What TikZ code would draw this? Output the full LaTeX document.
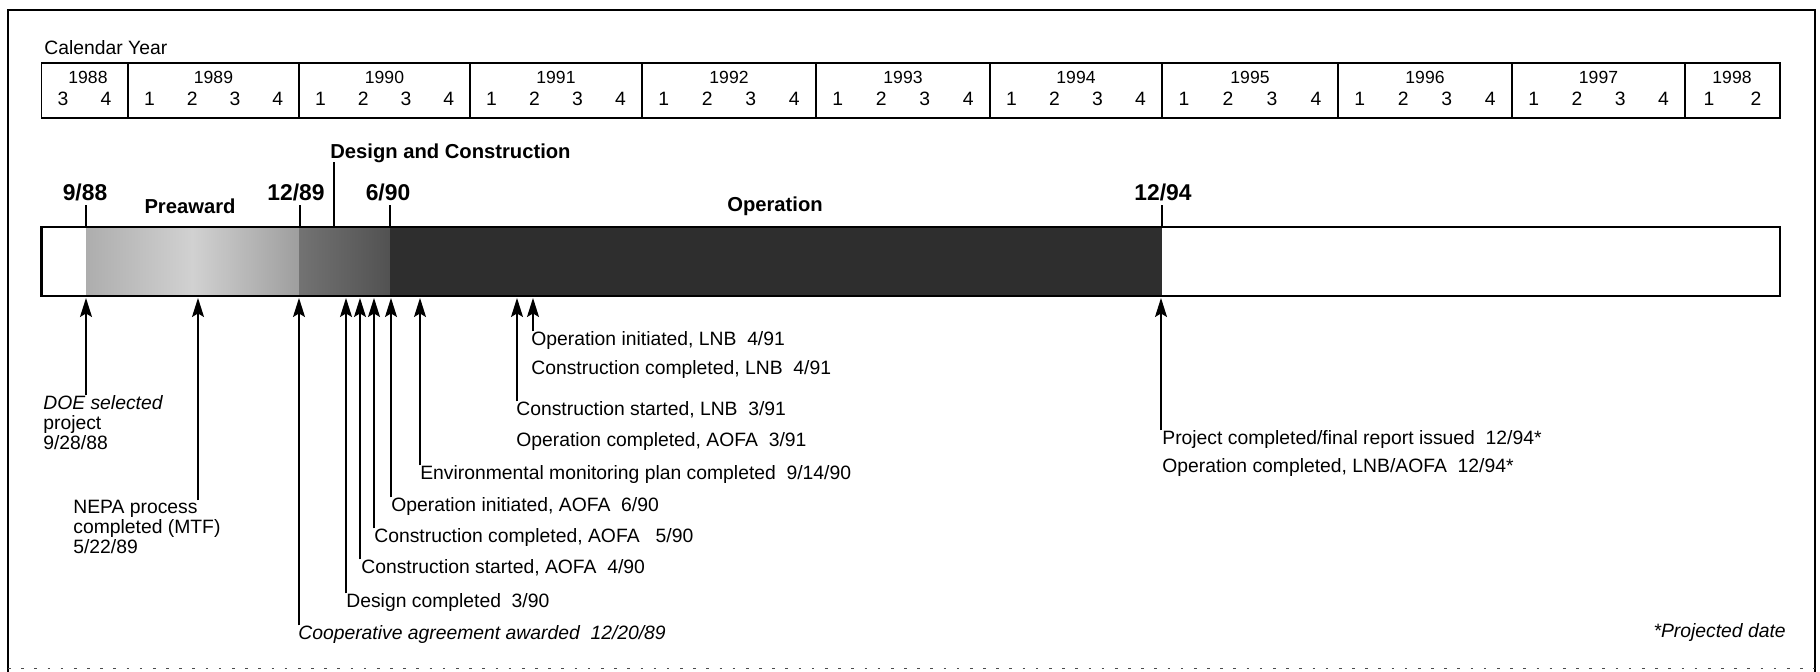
\documentclass[tikz,border=0pt]{standalone}
\usepackage{fontspec}
\setmainfont{Liberation Sans}
\usetikzlibrary{arrows.meta}

\begin{document}
\begin{tikzpicture}[x=0.02cm,y=-0.02cm,
    lbl/.style={anchor=west,inner sep=0pt,text height=8pt,text depth=2.5pt,font=\fontsize{11}{12}\selectfont},
    blk/.style={anchor=north west,inner sep=0pt,align=left,font=\fontsize{11}{11.4}\selectfont},
    yr/.style={inner sep=0pt,font=\fontsize{10}{11}\selectfont},
    qt/.style={inner sep=0pt,font=\fontsize{11}{12}\selectfont},
    phase/.style={inner sep=0pt,font=\fontsize{11.5}{12}\selectfont\bfseries},
    date/.style={inner sep=2.5pt,font=\fontsize{13}{14}\selectfont\bfseries},
    tick/.style={line width=0.6pt},
    arr/.style={line width=0.7pt,-{Stealth[length=0.38cm,width=0.24cm,inset=0.07cm]}}]
  \useasboundingbox (0,0) rectangle (1820,672);
  \draw[line width=1.3pt] (8,672) -- (8,10) -- (1815,10) -- (1815,672);
  \draw[line width=0.5pt,black!70,dash pattern=on 1.5pt off 6pt] (8,668) -- (1815,668);

  % calendar
  \node[anchor=west,inner sep=0pt,font=\fontsize{11}{12}\selectfont] (cal) at (44,48) {Calendar Year};
  \draw[line width=1pt] (41.5,63) rectangle (1780,118);
  \node[yr] (y1988) at (88,77) {1988};
  \node[qt] (q1988-3) at (63,99) {3};
  \node[qt] (q1988-4) at (106,99) {4};
  \foreach \a/\b/\yr in {128/299/1989,299/470/1990,470/642/1991,642/816/1992,816/990/1993,
      990/1162/1994,1162/1338/1995,1338/1512/1996,1512/1685/1997}{
    \draw[line width=0.6pt] (\a,63) -- (\a,118);
    \node[yr] (y\yr) at ({(\a+\b)/2},77) {\yr};
    \foreach \q in {1,...,4}
      \node[qt] (q\yr-\q) at ({\a+(\b-\a)*(\q-0.5)/4},99) {\q};
  }
  \draw[line width=0.6pt] (1685,63) -- (1685,118);
  \node[yr] (y1998) at (1732,77) {1998};
  \node[qt] (q1998-1) at (1709,99) {1};
  \node[qt] (q1998-2) at (1756,99) {2};

  % bar
  \shade[left color=black!32,right color=black!38,middle color=black!18] (86,227) rectangle (299,296);
  \shade[left color=black!55,right color=black!68] (299,227) rectangle (390,296);
  \fill[black!82] (390,227) rectangle (1162,296);
  \draw[line width=1.2pt] (41.5,227) rectangle (1780,296);

  \coordinate (t988) at (86,227);
  \coordinate (t1289) at (300,227);
  \coordinate (t690) at (390,227);
  \coordinate (t1294) at (1162,227);
  \coordinate (tdc) at (334,227);
  \coordinate (dctop) at (334,162);
  \node[date] (d988) at (85,192) {9/88};
  \node[date] (d1289) at (296,192) {12/89};
  \node[date] (d690) at (388,192) {6/90};
  \node[date] (d1294) at (1163,192) {12/94};
  \node[phase] (pre) at (190,206) {Preaward};
  \node[phase] (op) at (775,206) {Operation};
  \node[phase,anchor=base west] (dc) at (330,159) {Design and Construction};
  \draw[tick] (t988) -- (t988 |- d988.south);
  \draw[tick] (t1289) -- (t1289 |- d1289.south);
  \draw[tick] (t690) -- (t690 |- d690.south);
  \draw[tick] (t1294) -- (t1294 |- d1294.south);
  \draw[tick] (tdc) -- (dctop);

  % milestones
  \coordinate (a1) at (86,298);
  \coordinate (a2) at (198,298);
  \coordinate (a3) at (299,298);
  \coordinate (a4) at (346,298);
  \coordinate (a5) at (360,298);
  \coordinate (a6) at (374,298);
  \coordinate (a7) at (391,298);
  \coordinate (a8) at (420,298);
  \coordinate (a9) at (517,298);
  \coordinate (a10) at (533,298);
  \coordinate (a11) at (1161,298);

  \node[blk] (doe) at (43,395) {\textit{DOE selected}\\project\\9/28/88};
  \node[blk] (nepa) at (73,500) {NEPA process\\completed (MTF)\\5/22/89};
  \node[lbl] (coop) at (298,635) {\textit{Cooperative agreement awarded\ \ 12/20/89}};
  \node[lbl] (dsgn) at (346,603) {Design completed\ \ 3/90};
  \node[lbl] (csa) at (361,569) {Construction started, AOFA\ \ 4/90};
  \node[lbl] (cca) at (374,538) {Construction completed, AOFA\ \ \ 5/90};
  \node[lbl] (oia) at (391,507) {Operation initiated, AOFA\ \ 6/90};
  \node[lbl] (env) at (420,475) {Environmental monitoring plan completed\ \ 9/14/90};
  \node[lbl] (oca) at (516,442) {Operation completed, AOFA\ \ 3/91};
  \node[lbl] (csl) at (516,411) {Construction started, LNB\ \ 3/91};
  \node[lbl] (ccl) at (531,370) {Construction completed, LNB\ \ 4/91};
  \node[lbl] (oil) at (531,341) {Operation initiated, LNB\ \ 4/91};
  \node[lbl] (pc) at (1162,440) {Project completed/final report issued\ \ 12/94*};
  \node[lbl] (ocl) at (1162,468) {Operation completed, LNB/AOFA\ \ 12/94*};
  \node[lbl,anchor=east] (proj) at (1786,633) {\textit{*Projected date}};

  \draw[arr] (a1 |- doe.north) -- (a1);
  \draw[arr] (a2 |- nepa.north) -- (a2);
  \draw[arr] (a3 |- coop.north) -- (a3);
  \draw[arr] (a4 |- dsgn.north) -- (a4);
  \draw[arr] (a5 |- csa.north) -- (a5);
  \draw[arr] (a6 |- cca.north) -- (a6);
  \draw[arr] (a7 |- oia.north) -- (a7);
  \draw[arr] (a8 |- env.north) -- (a8);
  \draw[arr] (a9 |- csl.north) -- (a9);
  \draw[arr] (a10 |- oil.north) -- (a10);
  \draw[arr] (a11 |- pc.north) -- (a11);
\end{tikzpicture}
\end{document}
